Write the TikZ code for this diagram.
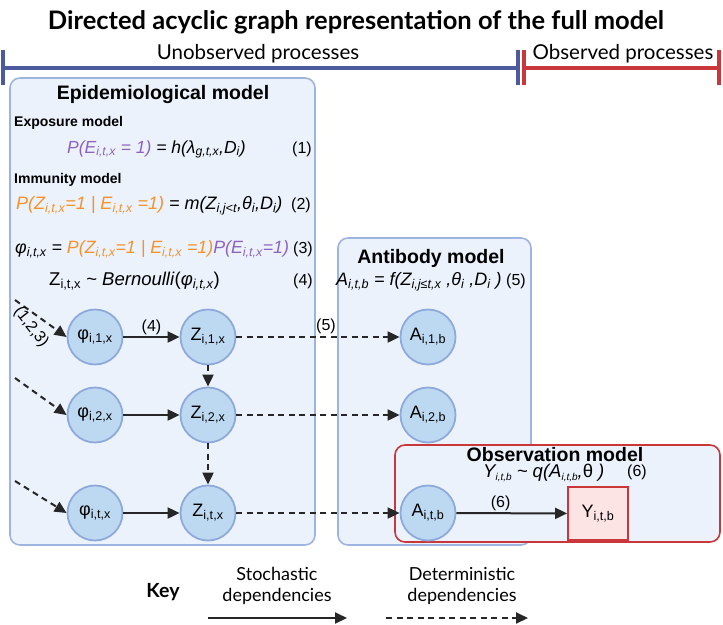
\documentclass[tikz,border=0pt]{standalone}
\usepackage{fontspec}
\setmainfont{Liberation Sans}
\newfontfamily\lato{Lato}
\usetikzlibrary{arrows.meta}
\newcommand\sbs[1]{\textsubscript{#1}}
\newcommand\fsz[1]{\fontsize{#1}{#1}\selectfont}
\newcommand\tsb[1]{\raisebox{-0.2em}{\fsz{10}#1}}
\definecolor{boxF}{HTML}{EBF2FB}
\definecolor{boxB}{HTML}{9DB5DE}
\definecolor{circF}{HTML}{BDD9F2}
\definecolor{circB}{HTML}{8EAADB}
\definecolor{redB}{HTML}{C9373B}
\definecolor{pinkF}{HTML}{FDE4E4}
\definecolor{purp}{HTML}{8E63BE}
\definecolor{orng}{HTML}{F5922B}
\definecolor{barB}{HTML}{4B5B9E}
\definecolor{arrC}{HTML}{262626}
\tikzset{
  latent/.style={circle, draw=circB, fill=circF, line width=1.8pt, minimum size=55, inner sep=0pt, font=\fsz{18}},
  obsnode/.style={rectangle, draw=redB, fill=pinkF, line width=1.8pt, minimum width=60, minimum height=53, inner sep=0pt, font=\fsz{18}},
  container/.style={rounded corners=10pt, line width=1.6pt, fill=boxF, draw=boxB},
  stoch/.style={draw=arrC, line width=2pt, -{Triangle[length=12pt,width=11pt]}},
  determ/.style={stoch, dash pattern=on 6pt off 4.5pt},
  heading/.style={font=\bfseries\fsz{19.5}, inner sep=0pt, anchor=base},
  subhead/.style={font=\bfseries\fsz{14}, anchor=base west, inner sep=0pt},
  eqn/.style={anchor=base west, inner sep=0pt},
  eqnum/.style={font=\fsz{16}, anchor=base west, inner sep=0pt},
  lbl/.style={font=\fsz{16}, inner sep=1pt},
  bar/.style={line width=4pt},
  keytext/.style={font=\lato\fontsize{18}{21.5}\selectfont, align=center, inner sep=0pt, anchor=base},
}
\begin{document}
\begin{tikzpicture}[x=1pt,y=-1pt]
\useasboundingbox (0,0) rectangle (723,624);
\fill[white] (0,0) rectangle (723,624);

% title
\node[font=\lato\bfseries\fsz{25.5}, inner sep=0pt, anchor=base] (title) at (356,29) {Directed acyclic graph representation of the full model};

% process bars
\draw[bar, barB] (3,68) -- (518,68);
\draw[bar, barB] (3,50) -- (3,85);
\draw[bar, barB] (518,50) -- (518,85);
\draw[bar, redB] (524,68) -- (719,68);
\draw[bar, redB] (524,50) -- (524,85);
\draw[bar, redB] (719,50) -- (719,85);
\node[font=\lato\fsz{20.5}, inner sep=0pt, anchor=base] (unobs) at (258,59) {Unobserved processes};
\node[font=\lato\fsz{20.5}, inner sep=0pt, anchor=base] (obs) at (623,59) {Observed processes};

% containers
\draw[container] (10,78) rectangle (315,545);
\draw[container] (338,238) rectangle (531,545);
\draw[container, draw=redB] (395,445) rectangle (720,542);

% epidemiological model text
\node[heading] (epih) at (163,99) {Epidemiological model};
\node[subhead] (exph) at (14,126) {Exposure model};
\node[eqn, font=\itshape\fsz{17.5}] (eq1) at (67,153) {{\color{purp}P(E\sbs{i,t,x} = 1)} = h(λ\sbs{g,t,x},D\sbs{i})};
\node[eqnum] (n1) at (292,153) {(1)};
\node[subhead] (immh) at (14,183) {Immunity model};
\node[eqn, font=\itshape\fsz{18}] (eq2) at (16,209) {{\color{orng}P(Z\sbs{i,t,x}=1 | E\sbs{i,t,x} =1)} = m(Z\sbs{i,j<t},θ\sbs{i},D\sbs{i})};
\node[eqnum] (n2) at (291,209) {(2)};
\node[eqn, font=\itshape\fsz{17.8}] (eq3) at (15,253) {φ\sbs{i,t,x} = {\color{orng}P(Z\sbs{i,t,x}=1 | E\sbs{i,t,x} =1)}{\color{purp}P(E\sbs{i,t,x}=1)}};
\node[eqnum] (n3) at (293,253) {(3)};
\node[eqn, font=\fsz{18.5}] (eq4) at (49,285) {Z\sbs{i,t,x} \textasciitilde{} \textit{Bernoulli}(\textit{φ\sbs{i,t,x}})};
\node[eqnum] (n4) at (293,285) {(4)};

% antibody model text
\node[heading] (abh) at (431,263) {Antibody model};
\node[eqn, font=\itshape\fsz{18}] (eq5) at (336,285) {A\sbs{i,t,b} = f(Z\sbs{i,j≤t,x} ,θ\sbs{i} ,D\sbs{i} )};
\node[eqnum] (n5) at (506,285) {(5)};

% observation model text
\node[heading] (obsh) at (555,461) {Observation model};
\node[eqn, font=\itshape\fsz{18.5}] (eq6) at (483,477) {Y\tsb{i,t,b} \textasciitilde{} q(A\tsb{i,t,b},\textup{θ} )};
\node[eqnum] (n6) at (627,476) {(6)};

% nodes
\node[latent] (phi1) at (95,337) {φ\sbs{i,1,x}};
\node[latent] (phi2) at (95,415) {φ\sbs{i,2,x}};
\node[latent] (phit) at (95,513) {φ\sbs{i,t,x}};
\node[latent] (z1) at (208,337) {Z\sbs{i,1,x}};
\node[latent] (z2) at (208,415) {Z\sbs{i,2,x}};
\node[latent] (zt) at (208,513) {Z\sbs{i,t,x}};
\node[latent] (a1) at (428,337) {A\sbs{i,1,b}};
\node[latent] (a2) at (428,415) {A\sbs{i,2,b}};
\node[latent] (at) at (428,513) {A\sbs{i,t,b}};
\node[obsnode] (yn) at (598,513.5) {Y\sbs{i,t,b}};

% incoming dashed arrows
\coordinate (c1) at (15,300);
\coordinate (c2) at (15,378);
\coordinate (c3) at (15,481);
\draw[determ] (c1) -- (phi1.west);
\draw[determ] (c2) -- (phi2.west);
\draw[determ] (c3) -- (phit.west);
\node[lbl, rotate=-52, font=\fsz{16}] (l123) at (31,327) {(1,2,3)};

% edges
\draw[stoch] (phi1) -- node[lbl, above] (l4) {(4)} (z1);
\draw[stoch] (phi2) -- (z2);
\draw[stoch] (phit) -- (zt);
\draw[determ] (z1) -- (z2);
\draw[determ] (z2) -- (zt);
\draw[determ] (z1) -- (a1);
\draw[determ] (z2) -- (a2);
\draw[determ] (zt) -- (at);
\node[lbl] (l5) at (326,326) {(5)};
\draw[stoch] (at) -- node[lbl, above, pos=0.4] (l6) {(6)} (yn);

% key
\node[font=\lato\bfseries\fsz{19.5}, inner sep=0pt, anchor=base] (key) at (163,597) {Key};
\node[keytext] (kst) at (277,601.5) {Stochastic\\dependencies};
\node[keytext] (kdt) at (462,601.5) {Deterministic\\dependencies};
\coordinate (k1s) at (208,618);
\coordinate (k1e) at (347,618);
\coordinate (k2s) at (386,618);
\coordinate (k2e) at (528,618);
\draw[stoch] (k1s) -- (k1e);
\draw[determ] (k2s) -- (k2e);
\end{tikzpicture}
\end{document}
